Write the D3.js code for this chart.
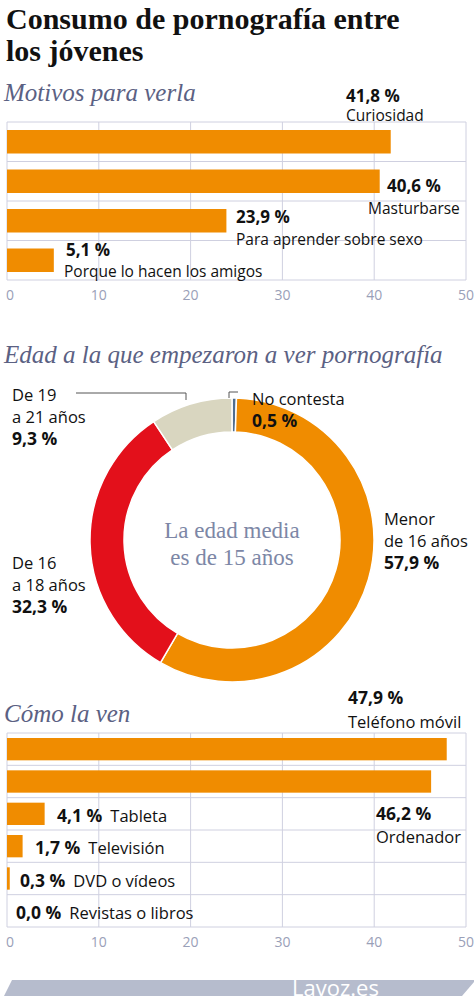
<!DOCTYPE html>
<html><head><meta charset="utf-8">
<script src="https://cdn.jsdelivr.net/npm/d3@7"></script>
<style>body{margin:0;background:#fff}</style>
</head><body>
<script>
// data
var motivos = ['Curiosidad', 'Masturbarse', 'Para aprender sobre sexo', 'Porque lo hacen los amigos'];
var motivosVal = [41.8, 40.6, 23.9, 5.1];
var edadCat = ['No contesta', 'Menor de 16 años', 'De 16 a 18 años', 'De 19 a 21 años'];
var edadVal = [0.5, 57.9, 32.3, 9.3];
var edadCol = ['#4f6d8f', '#f08c00', '#e3101b', '#d9d6c0'];
var medios = ['Teléfono móvil', 'Ordenador', 'Tableta', 'Televisión', 'DVD o vídeos', 'Revistas o libros'];
var mediosVal = [47.9, 46.2, 4.1, 1.7, 0.3, 0.0];
var ticks = [0, 10, 20, 30, 40, 50];

var W = 474, H = 998, ORANGE = '#f08c00', GRID = '#cfd0e0', SUB = '#5b6183';
var fmt = function (v) { return v.toFixed(1).replace('.', ',') + ' %'; };
var sans = '"Open Sans", Lato, sans-serif';
var serif = '"Liberation Serif", "DejaVu Serif", serif';

var svg = d3.select('body').append('svg').attr('width', W).attr('height', H);

svg.append('text').attr('x', 6).attr('y', 29).attr('font-family', serif).attr('font-weight', 'bold')
    .attr('font-size', 30).attr('fill', '#111').text('Consumo de pornografía entre');
svg.append('text').attr('x', 6).attr('y', 61).attr('font-family', serif).attr('font-weight', 'bold')
    .attr('font-size', 30).attr('fill', '#111').text('los jóvenes');

function subtitle(t, y) {
    svg.append('text').attr('x', 4).attr('y', y).attr('font-family', serif).attr('font-style', 'italic')
        .attr('font-size', 25).attr('fill', SUB).text(t);
}

var x = d3.scaleLinear().domain([0, 50]).range([7, 466]);

function frame(top, bottom, n) {
    var g = svg.append('g');
    var y = d3.scaleBand().domain(d3.range(n)).range([top, bottom]);
    g.selectAll('line.v').data(ticks).enter().append('line')
        .attr('x1', x).attr('x2', x).attr('y1', top).attr('y2', bottom).attr('stroke', GRID);
    g.selectAll('line.h').data(d3.range(n + 1)).enter().append('line')
        .attr('x1', x(0)).attr('x2', x(50))
        .attr('y1', function (d) { return top + d * y.step(); })
        .attr('y2', function (d) { return top + d * y.step(); }).attr('stroke', GRID);
    g.selectAll('text.t').data(ticks).enter().append('text')
        .attr('x', function (d) { return d === 0 ? x(d) - 1 : x(d); })
        .attr('y', bottom + 20).attr('text-anchor', function (d) { return d === 0 ? 'start' : 'middle'; })
        .attr('font-family', sans).attr('font-size', 14).attr('fill', '#9aa0b8').text(function (d) { return d; });
    return y;
}

function label(px, py, txt, bold, size) {
    return svg.append('text').attr('x', px).attr('y', py).attr('font-family', sans)
        .attr('font-weight', bold ? 'bold' : 'normal').attr('font-size', size).attr('fill', '#111').text(txt);
}

// Motivos
subtitle('Motivos para verla', 101);
var y1 = frame(122, 280, 4);
svg.selectAll('rect.m').data(motivosVal).enter().append('rect')
    .attr('x', x(0)).attr('y', function (d, i) { return y1(i) + 8; })
    .attr('width', function (d) { return x(d) - x(0); }).attr('height', y1.step() - 16).attr('fill', ORANGE);
var mLab = [[346, 102, 346, 121], [387, 192, 368, 214], [236, 223, 236, 245], [66, 256, 64, 277]];
motivos.forEach(function (m, i) {
    var l = mLab[i];
    label(l[0], l[1], fmt(motivosVal[i]), true, 17);
    label(l[2], l[3], m, false, 15.5);
});

// Edad
subtitle('Edad a la que empezaron a ver pornografía', 363);
var cx = 232, cy = 540;
var pie = d3.pie().sort(null)(edadVal);
var arc = d3.arc().innerRadius(108).outerRadius(142);
var dg = svg.append('g').attr('transform', 'translate(' + cx + ',' + cy + ')');
dg.selectAll('path').data(pie).enter().append('path').attr('d', arc)
    .attr('fill', function (d, i) { return edadCol[i]; }).attr('stroke', '#fff').attr('stroke-width', 1.5);
svg.append('text').attr('x', cx).attr('y', 538).attr('text-anchor', 'middle').attr('font-family', serif)
    .attr('font-size', 23).attr('fill', '#7d87a6').text('La edad media');
svg.append('text').attr('x', cx).attr('y', 565).attr('text-anchor', 'middle').attr('font-family', serif)
    .attr('font-size', 23).attr('fill', '#7d87a6').text('es de 15 años');
// leader lines
svg.append('path').attr('d', 'M229,398 V392 H238').attr('fill', 'none').attr('stroke', '#555');
svg.append('path').attr('d', 'M186,400 V393 H76').attr('fill', 'none').attr('stroke', '#555');
var eLab = [
    { x: 252, y: 405, lines: ['No contesta'] },
    { x: 384, y: 525, lines: ['Menor', 'de 16 años'] },
    { x: 12, y: 569, lines: ['De 16', 'a 18 años'] },
    { x: 12, y: 401, lines: ['De 19', 'a 21 años'] }
];
eLab.forEach(function (l, i) {
    var yy = l.y;
    l.lines.forEach(function (t) { label(l.x, yy, t, false, 16.5); yy += 22; });
    label(l.x, yy, fmt(edadVal[i]), true, 17.5);
});

// Medios
subtitle('Cómo la ven', 722);
var y2 = frame(733, 927, 6);
svg.selectAll('rect.c').data(mediosVal).enter().append('rect')
    .attr('x', x(0)).attr('y', function (d, i) { return y2(i) + 5; })
    .attr('width', function (d) { return x(d) - x(0); }).attr('height', y2.step() - 10).attr('fill', ORANGE);
var cLab = [[348, 704, 348, 728, 0], [376, 820, 376, 843, 0], [57, 822, 0, 0, 1], [35, 854, 0, 0, 1], [20, 887, 0, 0, 1], [16, 919, 0, 0, 1]];
medios.forEach(function (m, i) {
    var l = cLab[i];
    var v = label(l[0], l[1], fmt(mediosVal[i]), true, 17.5);
    if (l[4]) {
        var w = v.node().getComputedTextLength();
        label(l[0] + w + 8, l[1], m, false, 16.5);
    } else {
        label(l[2], l[3], m, false, 16.5);
    }
});

// footer
svg.append('path').attr('d', 'M12,980 H474 V982 L462,996 H4 Z').attr('fill', '#b6bccd');
svg.append('text').attr('x', 292).attr('y', 996).attr('font-family', sans).attr('font-size', 22)
    .attr('fill', '#fff').text('Lavoz.es');
</script>
</body></html>
